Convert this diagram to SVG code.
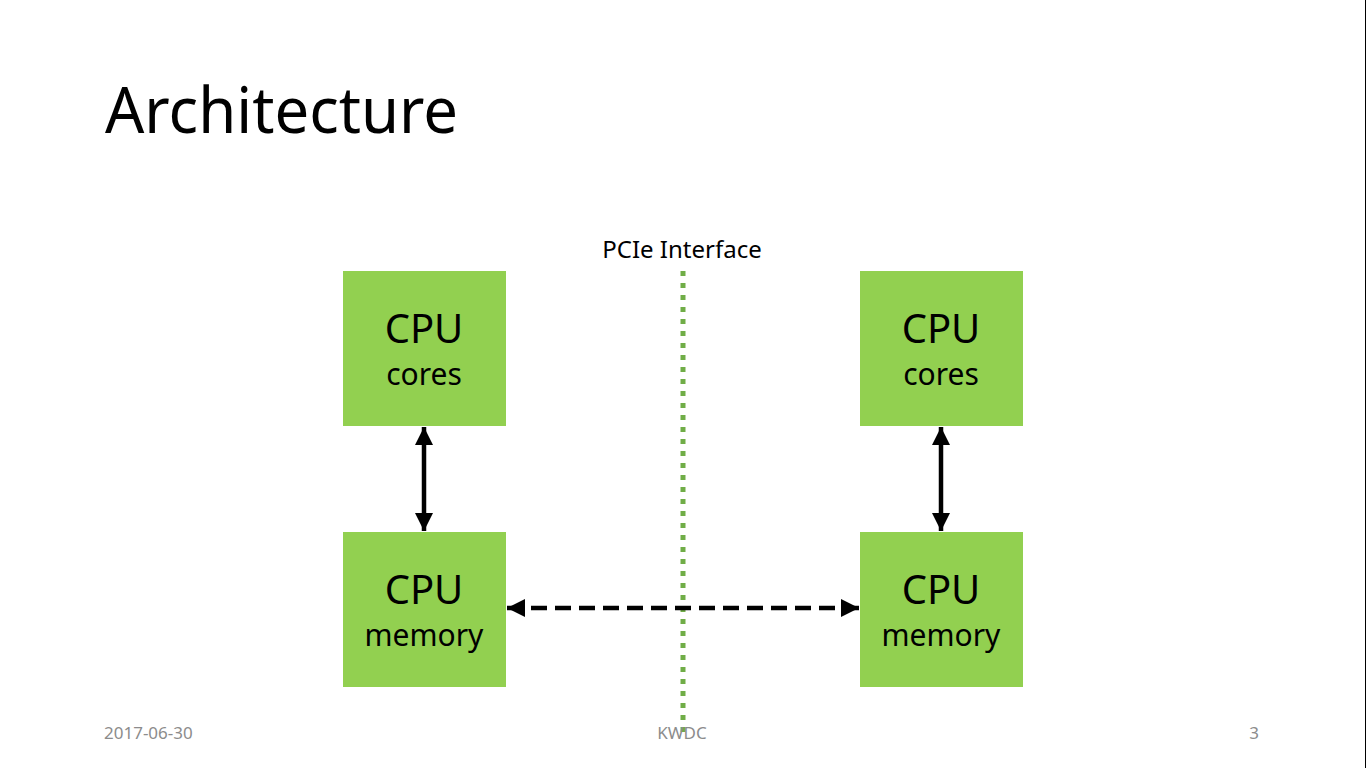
<svg xmlns="http://www.w3.org/2000/svg" width="1366" height="768" viewBox="0 0 1366 768">
<style>
.box{fill:#92d050}
.t1{font-family:"Noto Sans","Open Sans",sans-serif;font-size:40px;fill:#000;text-anchor:middle}
.t2{font-family:"Noto Sans","Open Sans",sans-serif;font-size:30px;fill:#000;text-anchor:middle}
.foot{font-family:"Noto Sans","Open Sans",sans-serif;font-size:17px;fill:#8c8c8c}
</style>
<defs>
<marker id="ah" viewBox="0 0 10 10" refX="10" refY="5" markerWidth="4" markerHeight="4" markerUnits="strokeWidth" orient="auto-start-reverse">
<path d="M0,0 L10,5 L0,10 z" fill="#000"/>
</marker>
</defs>
<rect width="1366" height="768" fill="#fff"/>
<line x1="1365.5" y1="0" x2="1365.5" y2="768" stroke="#000" stroke-width="1"/>
<text x="105" y="133" font-family="Noto Sans,Open Sans,sans-serif" font-size="64" fill="#000" textLength="353" lengthAdjust="spacingAndGlyphs">Architecture</text>
<text x="682" y="258" font-family="Noto Sans,Open Sans,sans-serif" font-size="24" fill="#000" text-anchor="middle">PCIe Interface</text>
<g id="pcie">
<line x1="683" y1="271" x2="683" y2="735" stroke="#70ad47" stroke-width="5" stroke-dasharray="5 7"/>
</g>
<g id="n1"><rect class="box" x="343" y="271" width="163" height="155"/><text class="t1" x="424" y="343">CPU</text><text class="t2" x="424" y="385">cores</text></g>
<g id="n2"><rect class="box" x="343" y="532" width="163" height="155"/><text class="t1" x="424" y="604">CPU</text><text class="t2" x="424" y="646">memory</text></g>
<g id="n3"><rect class="box" x="860" y="271" width="163" height="155"/><text class="t1" x="941" y="343">CPU</text><text class="t2" x="941" y="385">cores</text></g>
<g id="n4"><rect class="box" x="860" y="532" width="163" height="155"/><text class="t1" x="941" y="604">CPU</text><text class="t2" x="941" y="646">memory</text></g>
<g id="connectors" stroke="#000" stroke-width="4.5" fill="none">
<line x1="424" y1="427" x2="424" y2="531" marker-start="url(#ah)" marker-end="url(#ah)"/>
<line x1="941" y1="427" x2="941" y2="531" marker-start="url(#ah)" marker-end="url(#ah)"/>
<line x1="507" y1="608" x2="859" y2="608" stroke-dasharray="16 8" marker-start="url(#ah)" marker-end="url(#ah)"/>
</g>
<text class="foot" x="104" y="739">2017-06-30</text>
<text class="foot" x="682" y="739" text-anchor="middle">KWDC</text>
<text class="foot" x="1259" y="739" text-anchor="end">3</text>
</svg>
